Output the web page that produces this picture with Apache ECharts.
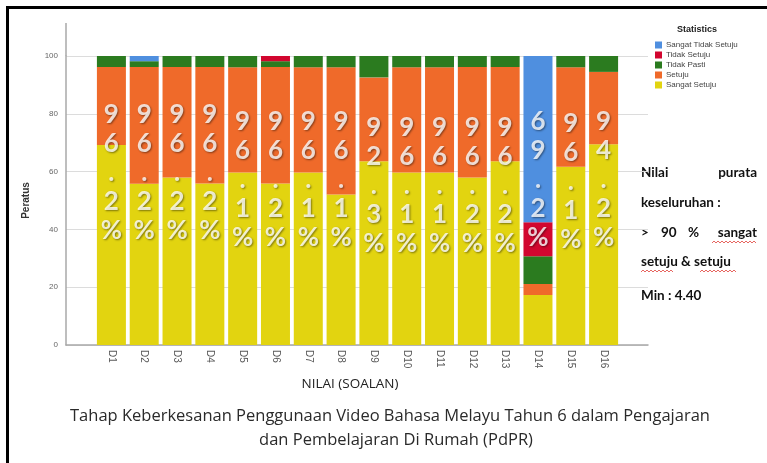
<!DOCTYPE html>
<html>
<head>
<meta charset="utf-8">
<script src="https://cdn.jsdelivr.net/npm/echarts@6/dist/echarts.min.js"></script>
<style>html,body{margin:0;padding:0;background:#fff;}#c{width:767px;height:463px;}</style>
</head>
<body>
<div id="c"></div>
<script>
var categories = ['D1','D2','D3','D4','D5','D6','D7','D8','D9','D10','D11','D12','D13','D14','D15','D16'];
var sangatSetuju = [69.2, 55.8, 58.0, 55.9, 59.7, 55.9, 59.7, 52.1, 63.6, 59.7, 59.7, 58.0, 63.6, 17.3, 61.7, 69.5];
var setuju       = [27.0, 40.4, 38.2, 40.3, 36.4, 40.3, 36.4, 44.0, 29.0, 36.4, 36.4, 38.2, 32.6, 3.8, 34.4, 25.0];
var tidakPasti   = [3.8, 2.0, 3.8, 3.8, 3.9, 2.0, 3.9, 3.9, 7.4, 3.9, 3.9, 3.8, 3.8, 9.6, 3.9, 5.5];
var tidakSetuju  = [0, 0, 0, 0, 0, 1.8, 0, 0, 0, 0, 0, 0, 0, 11.8, 0, 0];
var sangatTidakSetuju = [0, 1.8, 0, 0, 0, 0, 0, 0, 0, 0, 0, 0, 0, 57.5, 0, 0];
var pctLabels = ['96.2%','96.2%','96.2%','96.2%','96.1%','96.2%','96.1%','96.1%','92.3%','96.1%','96.1%','96.2%','96.2%','69.2%','96.1%','94.2%'];
var pctLabelY = [59.5, 59.5, 59.5, 59.5, 57.1, 57.1, 57.1, 57.1, 55.2, 55.2, 55.2, 55.2, 55.2, 57.4, 56.6, 57.1];
var yTicks = [0, 20, 40, 60, 80, 100];
var seriesNames = ['Sangat Tidak Setuju','Tidak Setuju','Tidak Pasti','Setuju','Sangat Setuju'];

var colors = {
  'Sangat Tidak Setuju': '#4f8fdf',
  'Tidak Setuju': '#d2062f',
  'Tidak Pasti': '#2b7b1f',
  'Setuju': '#ef6a2a',
  'Sangat Setuju': '#e2d410'
};

var chart = echarts.init(document.getElementById('c'), null, {renderer: 'canvas'});

function barSeries(name, data) {
  return {
    name: name, type: 'bar', stack: 'all', xAxisIndex: 1, yAxisIndex: 1,
    data: data, barWidth: 29, itemStyle: {color: colors[name]},
    emphasis: {disabled: true}
  };
}

function txt(x, y, s, font, fill, align) {
  return {type: 'text', x: x, y: y, style: {text: s, font: font, fill: fill, align: align, verticalAlign: 'middle', textAlign: align, textVerticalAlign: 'middle'}};
}
var rf = 'bold 13.5px Lato';

var option = {
  animation: false,
  backgroundColor: '#fff',
  legend: {
    data: seriesNames,
    orient: 'vertical', left: 650, top: 35,
    icon: 'rect', itemWidth: 7, itemHeight: 7, itemGap: 0,
    textStyle: {fontSize: 8, fontFamily: 'Liberation Sans', color: '#444', lineHeight: 10, padding: [0,0,0,-1]},
    selectedMode: false
  },
  grid: [
    {left: 66, right: 119, top: 56, bottom: 118},
    {left: 95, right: 147, top: 56, bottom: 118}
  ],
  xAxis: [
    {gridIndex: 0, type: 'value', min: 0, max: 1,
     axisLine: {show: true, lineStyle: {color: '#a8a8a8', width: 1.5}},
     axisTick: {show: false}, axisLabel: {show: false}, splitLine: {show: false}},
    {gridIndex: 1, type: 'category', data: categories,
     axisLine: {show: false}, axisTick: {show: false},
     axisLabel: {rotate: -90, fontSize: 10, fontFamily: 'Liberation Sans', color: '#5a5a5a', margin: 5}}
  ],
  yAxis: [
    {gridIndex: 0, type: 'value', min: yTicks[0], max: yTicks[yTicks.length-1], interval: 20,
     axisLine: {show: true, lineStyle: {color: '#a8a8a8', width: 1.5}},
     axisTick: {show: false},
     axisLabel: {fontSize: 8, fontFamily: 'Liberation Sans', color: '#666', margin: 8},
     splitLine: {lineStyle: {color: '#dcdcdc', width: 1}},
     name: 'Peratus', nameLocation: 'middle', nameGap: 35, nameRotate: 90,
     nameTextStyle: {fontSize: 10, fontWeight: 'bold', fontFamily: 'Liberation Sans', color: '#333'}},
    {gridIndex: 1, type: 'value', min: 0, max: 100, show: false}
  ],
  series: [
    barSeries('Sangat Setuju', sangatSetuju),
    barSeries('Setuju', setuju),
    barSeries('Tidak Pasti', tidakPasti),
    barSeries('Tidak Setuju', tidakSetuju),
    barSeries('Sangat Tidak Setuju', sangatTidakSetuju),
    {
      type: 'scatter', xAxisIndex: 1, yAxisIndex: 1, symbolSize: 0, silent: true,
      data: pctLabelY, z: 10,
      label: {
        show: true, position: 'inside',
        formatter: function (p) { return pctLabels[p.dataIndex].split('').join('\n'); },
        fontSize: 26, lineHeight: 29, fontFamily: 'Lato', fontWeight: 'bold', color: '#fff',
        textShadowColor: 'rgba(0,0,0,0.55)', textShadowBlur: 2, textShadowOffsetX: 1, textShadowOffsetY: 1
      }
    }
  ],
  graphic: [
    {type: 'rect', shape: {x: 6, y: 6, width: 3, height: 463}, style: {fill: '#000'}},
    {type: 'rect', shape: {x: 6, y: 6, width: 767, height: 3}, style: {fill: '#000'}},
    {type: 'line', shape: {x1: 66, y1: 23, x2: 66, y2: 56}, style: {stroke: '#a8a8a8', lineWidth: 1.5}},
    txt(697, 30, 'Statistics', 'bold 9px "Liberation Sans"', '#222', 'center'),
    txt(350, 384, 'NILAI (SOALAN)', '13.5px "Open Sans"', '#222', 'center'),
    txt(390, 416, 'Tahap Keberkesanan Penggunaan Video Bahasa Melayu Tahun 6 dalam Pengajaran', '16.5px "Open Sans"', '#2a2a2a', 'center'),
    txt(396, 440, 'dan Pembelajaran Di Rumah (PdPR)', '16.5px "Open Sans"', '#2a2a2a', 'center'),
    txt(641, 173, 'Nilai', rf, '#111', 'left'),
    txt(757, 173, 'purata', rf, '#111', 'right'),
    txt(641, 203, 'keseluruhan :', rf, '#111', 'left'),
    txt(641, 233, '>', rf, '#111', 'left'),
    txt(661, 233, '90', rf, '#111', 'left'),
    txt(688, 233, '%', rf, '#111', 'left'),
    txt(757, 233, 'sangat', rf, '#111', 'right'),
    txt(641, 262, 'setuju & setuju', rf, '#111', 'left'),
    txt(641, 296, 'Min : 4.40', rf, '#111', 'left'),
    {type: 'polyline', shape: {points: [[712,243],[714,241],[716,243],[718,241],[720,243],[722,241],[724,243],[726,241],[728,243],[730,241],[732,243],[734,241],[736,243],[738,241],[740,243],[742,241],[744,243],[746,241],[748,243],[750,241],[752,243],[754,241],[756,243]]}, style: {stroke: '#e0403a', lineWidth: 0.8, fill: null}},
    {type: 'polyline', shape: {points: [[641,272],[643,270],[645,272],[647,270],[649,272],[651,270],[653,272],[655,270],[657,272],[659,270],[661,272],[663,270],[665,272],[667,270],[669,272],[671,270],[673,272]]}, style: {stroke: '#e0403a', lineWidth: 0.8, fill: null}},
    {type: 'polyline', shape: {points: [[700,272],[702,270],[704,272],[706,270],[708,272],[710,270],[712,272],[714,270],[716,272],[718,270],[720,272],[722,270],[724,272],[726,270],[728,272],[730,270],[732,272],[734,270],[736,272]]}, style: {stroke: '#e0403a', lineWidth: 0.8, fill: null}}
  ]
};
chart.setOption(option);
</script>
</body>
</html>
